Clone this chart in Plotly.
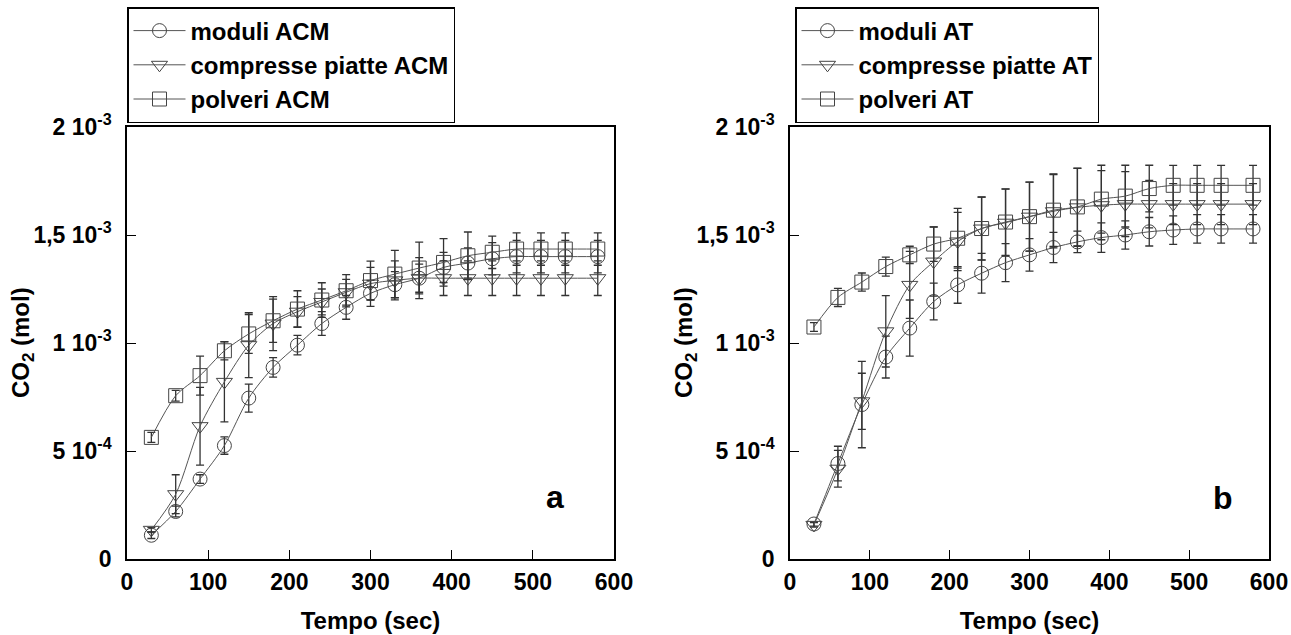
import plotly.graph_objects as go

# tempo (sec)
tempo = [30, 60, 90, 120, 150, 180, 210, 240, 270, 300, 330, 360, 390, 420, 450, 480, 510, 540, 580]

# pannello a - ACM (valori in 1e-4 mol)
moduli_acm = [1.1, 2.2, 3.7, 5.25, 7.45, 8.87, 9.9, 10.9, 11.65, 12.3, 12.7, 13.0, 13.5, 13.7, 13.9, 14.0, 14.0, 14.0, 14.0]
moduli_acm_err = [0.15, 0.25, 0.2, 0.4, 0.65, 0.45, 0.45, 0.55, 0.55, 0.6, 0.6, 0.65, 0.7, 0.7, 0.75, 0.75, 0.75, 0.75, 0.75]
compresse_acm = [1.35, 3.0, 6.15, 8.2, 9.9, 10.9, 11.45, 11.9, 12.35, 12.75, 12.9, 13.0, 13.0, 13.0, 13.0, 13.0, 13.0, 13.0, 13.0]
compresse_acm_err = [0.1, 0.9, 1.8, 1.85, 1.5, 1.25, 0.7, 0.6, 0.6, 0.75, 0.9, 0.95, 0.8, 0.8, 0.8, 0.8, 0.8, 0.8, 0.8]
polveri_acm = [5.63, 7.56, 8.49, 9.64, 10.42, 11.03, 11.57, 11.99, 12.42, 12.89, 13.19, 13.47, 13.73, 14.04, 14.2, 14.35, 14.35, 14.35, 14.35]
polveri_acm_err = [0.23, 0.25, 0.9, 0.42, 0.9, 1.0, 0.85, 0.8, 0.75, 0.9, 1.1, 1.2, 1.1, 1.1, 0.75, 0.75, 0.75, 0.75, 0.75]

# pannello b - AT (valori in 1e-4 mol)
moduli_at = [1.62, 4.42, 7.15, 9.35, 10.69, 11.92, 12.69, 13.23, 13.72, 14.08, 14.42, 14.68, 14.88, 15.0, 15.15, 15.23, 15.28, 15.28, 15.28]
moduli_at_err = [0.1, 0.8, 2.0, 0.97, 1.3, 0.85, 0.85, 0.92, 0.88, 0.75, 0.7, 0.5, 0.68, 0.65, 0.66, 0.66, 0.66, 0.66, 0.66]
compresse_at = [1.58, 4.18, 7.3, 10.54, 12.69, 13.77, 14.7, 15.3, 15.57, 15.85, 16.1, 16.28, 16.38, 16.43, 16.43, 16.43, 16.43, 16.43, 16.43]
compresse_at_err = [0.1, 0.85, 1.3, 1.65, 1.55, 1.6, 1.35, 1.45, 1.55, 1.6, 1.7, 1.8, 1.6, 1.5, 1.1, 0.95, 0.95, 0.95, 0.95]
polveri_at = [10.74, 12.11, 12.82, 13.54, 14.08, 14.58, 14.85, 15.3, 15.6, 15.85, 16.15, 16.3, 16.66, 16.8, 17.15, 17.3, 17.3, 17.3, 17.3]
polveri_at_err = [0.2, 0.42, 0.42, 0.44, 0.4, 0.8, 1.38, 1.46, 1.54, 1.6, 1.68, 1.8, 1.57, 1.43, 1.08, 0.92, 0.92, 0.92, 0.92]

y_tickvals = [0, 5e-4, 1e-3, 1.5e-3, 2e-3]
y_ticktext = ["0", "5 10<sup>-4</sup>", "1 10<sup>-3</sup>", "1,5 10<sup>-3</sup>", "2 10<sup>-3</sup>"]
x_tickvals = [0, 100, 200, 300, 400, 500, 600]

FONT = "Liberation Sans, Arial, sans-serif"
W, H = 1291, 635


def scaled(vals):
    return [v * 1e-4 for v in vals]


def add_series(fig, y, err, name, symbol, xaxis, yaxis, legend):
    fig.add_trace(go.Scatter(
        x=tempo, y=scaled(y), name=name,
        mode="lines+markers",
        line=dict(color="#555555", width=1, shape="spline", smoothing=0.8),
        marker=dict(symbol=symbol, size=14, color="#444444", line=dict(color="#444444", width=1)),
        error_y=dict(type="data", array=scaled(err), color="#333333", thickness=1.3, width=4),
        xaxis=xaxis, yaxis=yaxis, legend=legend,
    ))


fig = go.Figure()
add_series(fig, moduli_acm, moduli_acm_err, "moduli ACM", "circle-open", "x", "y", "legend")
add_series(fig, compresse_acm, compresse_acm_err, "compresse piatte ACM", "triangle-down-open", "x", "y", "legend")
add_series(fig, polveri_acm, polveri_acm_err, "polveri ACM", "square-open", "x", "y", "legend")
add_series(fig, moduli_at, moduli_at_err, "moduli AT", "circle-open", "x2", "y2", "legend2")
add_series(fig, compresse_at, compresse_at_err, "compresse piatte AT", "triangle-down-open", "x2", "y2", "legend2")
add_series(fig, polveri_at, polveri_at_err, "polveri AT", "square-open", "x2", "y2", "legend2")

tick_font = dict(family=FONT, size=23, color="black", weight="bold")
title_font = dict(family=FONT, size=24, color="black", weight="bold")
legend_font = dict(family=FONT, size=24, color="black", weight="bold")

xcommon = dict(range=[0, 600], tickvals=x_tickvals, ticks="inside", ticklen=9, tickcolor="black",
               showline=True, linecolor="black", linewidth=1.5, mirror=True, showgrid=False, zeroline=False,
               tickfont=tick_font, ticklabelstandoff=2,
               title=dict(text="Tempo (sec)", font=title_font, standoff=18))
ycommon = dict(range=[0, 2e-3], tickvals=y_tickvals, ticktext=y_ticktext, ticks="inside", ticklen=9,
               tickcolor="black", showline=True, linecolor="black", linewidth=1.5, mirror=True,
               showgrid=False, zeroline=False, tickfont=tick_font, ticklabelstandoff=9)

ydom = [(H - 559) / H, (H - 127) / H]
ylab_y = 1 - 343 / H
fig.update_layout(
    width=W, height=H,
    margin=dict(l=0, r=0, t=0, b=0, autoexpand=False),
    paper_bgcolor="white", plot_bgcolor="white",
    font=dict(family=FONT, color="black"),
    xaxis=dict(domain=[127 / W, 614 / W], anchor="y", **xcommon),
    yaxis=dict(domain=ydom, anchor="x", **ycommon),
    xaxis2=dict(domain=[790 / W, 1269 / W], anchor="y2", **xcommon),
    yaxis2=dict(domain=ydom, anchor="x2", **ycommon),
    legend=dict(x=127 / W, y=1 - 7 / H, xanchor="left", yanchor="top",
                bordercolor="black", borderwidth=1.5, bgcolor="white",
                font=legend_font, tracegroupgap=0, itemwidth=52),
    legend2=dict(x=795 / W, y=1 - 7 / H, xanchor="left", yanchor="top",
                 bordercolor="black", borderwidth=1.5, bgcolor="white",
                 font=legend_font, tracegroupgap=0, itemwidth=52),
    annotations=[
        # titoli asse y come annotazioni ruotate
        dict(text="CO<sub>2</sub> (mol)", x=23 / W, y=ylab_y, xref="paper", yref="paper",
             xanchor="center", yanchor="middle",
             textangle=-90, showarrow=False, font=title_font),
        dict(text="CO<sub>2</sub> (mol)", x=686 / W, y=ylab_y, xref="paper", yref="paper",
             xanchor="center", yanchor="middle",
             textangle=-90, showarrow=False, font=title_font),
        dict(text="a", x=(555 - 127) / 0.8117, y=(559 - 497) / 432 * 2e-3, xref="x", yref="y",
             showarrow=False, font=dict(family=FONT, size=32, color="black", weight="bold")),
        dict(text="b", x=(1223 - 790) / 0.7983, y=(559 - 498) / 432 * 2e-3, xref="x2", yref="y2",
             showarrow=False, font=dict(family=FONT, size=32, color="black", weight="bold")),
    ],
)

# la pagina ha un margine di 8px di default sul body
fig.write_html("out.html", config={"displayModeBar": False},
               post_script="document.body.style.margin = '0';")
